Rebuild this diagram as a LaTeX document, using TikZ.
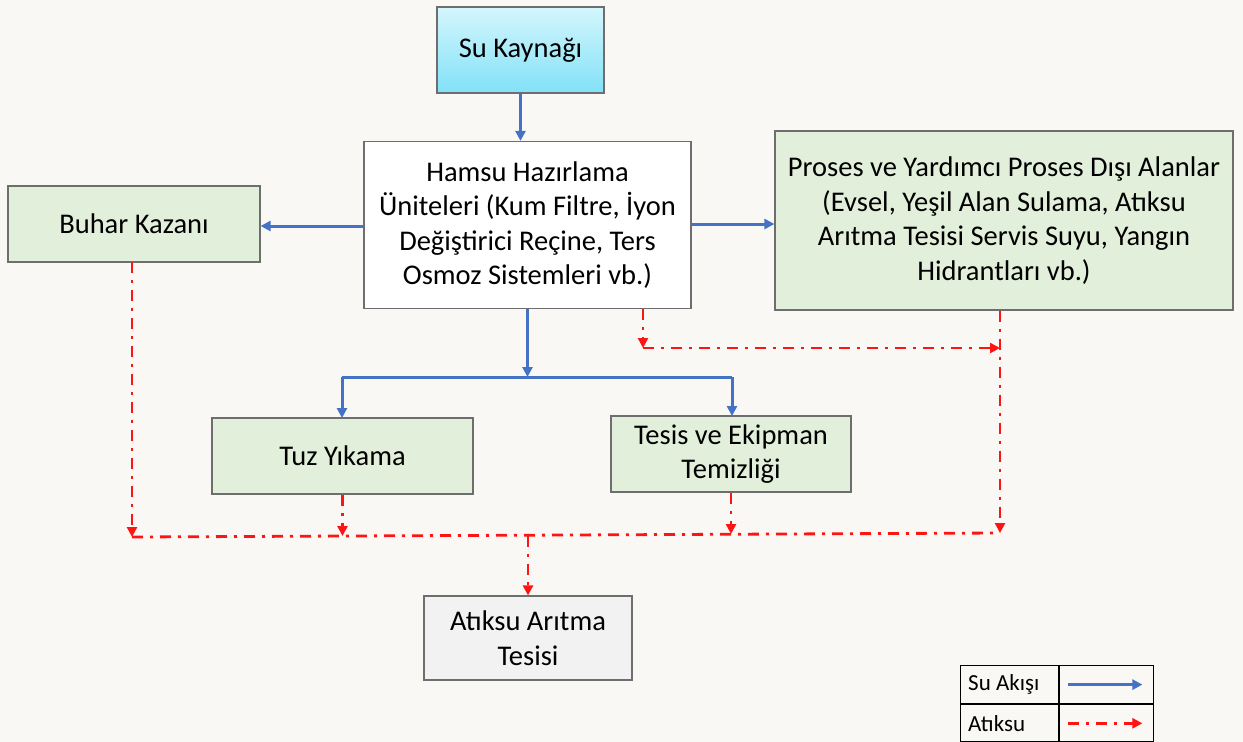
\documentclass[tikz,border=0pt]{standalone}
\usepackage{fontspec}
\setmainfont{Carlito}
\usetikzlibrary{arrows.meta}
\definecolor{bg}{RGB}{250,248,245}
\definecolor{boxgray}{RGB}{110,110,110}
\definecolor{greenfill}{RGB}{226,239,218}
\definecolor{grayfill}{RGB}{242,242,242}
\definecolor{waterblue}{RGB}{68,114,196}
\definecolor{wastered}{RGB}{255,20,20}
\definecolor{cyantop}{RGB}{212,246,252}
\definecolor{cyanbot}{RGB}{130,225,248}
\tikzset{
  box/.style={draw=boxgray, line width=1.2pt, inner sep=0pt, align=center,
    font=\fontsize{28.5}{34.5}\selectfont},
  greenbox/.style={box, fill=greenfill},
  water/.style={draw=waterblue, line width=3pt, -{Triangle[length=10pt,width=10pt]}},
  waterline/.style={draw=waterblue, line width=3pt},
  waste/.style={draw=wastered, line width=2.8pt, dash pattern=on 11pt off 7pt on 3pt off 7pt,
    -{Triangle[length=10pt,width=10pt]}},
  wasteline/.style={draw=wastered, line width=2.8pt, dash pattern=on 11pt off 7pt on 3pt off 7pt},
  legcell/.style={draw=black, line width=1.2pt, inner sep=0pt, anchor=north west},
  legtext/.style={anchor=west, inner sep=0pt, font=\fontsize{23}{26}\selectfont}
}
\begin{document}
\begin{tikzpicture}[x=1pt,y=-1pt]
\useasboundingbox[fill=bg] (0,0) rectangle (1243,742);
% boxes
\node[box, top color=cyantop, bottom color=cyanbot, minimum width=167pt, minimum height=86pt] (src) at (520.5,50) {Su Kaynağı};
\node[box, fill=white, minimum width=327pt, minimum height=167pt] (ham) at (527.5,225)
  {Hamsu Hazırlama\\Üniteleri (Kum Filtre, İyon\\Değiştirici Reçine, Ters\\Osmoz Sistemleri vb.)};
\node[greenbox, minimum width=252pt, minimum height=76pt] (buhar) at (134,224) {Buhar Kazanı};
\node[greenbox, minimum width=458pt, minimum height=179pt] (proses) at (1004,220.5)
  {Proses ve Yardımcı Proses Dışı Alanlar\\(Evsel, Yeşil Alan Sulama, Atıksu\\Arıtma Tesisi Servis Suyu, Yangın\\Hidrantları vb.)};
\node[greenbox, minimum width=261pt, minimum height=76pt] (tuz) at (342.5,456) {Tuz Yıkama};
\node[greenbox, minimum width=240pt, minimum height=76pt] (tesis) at (731,454) {Tesis ve Ekipman\\Temizliği};
\node[box, fill=grayfill, minimum width=208pt, minimum height=84pt] (atik) at (528,638) {Atıksu Arıtma\\Tesisi};
% water flow
\draw[water] (src.south) -- (src.south |- ham.north);
\draw[water] (ham.west |- 0,226) -- (buhar.east |- 0,226);
\draw[water] (ham.east |- 0,224) -- (proses.west |- 0,224);
\coordinate (wj) at (ham.south |- 0,377);
\draw[water] (ham.south) -- (wj);
\draw[waterline] (342,377) -- (732,377);
\draw[water] (342,377) -- (342,418);
\draw[water] (732,377) -- (732,416);
% waste water
\coordinate (bl) at (132,537);
\coordinate (br) at (1000,533);
\coordinate (bm) at (528,536);
\draw[waste] (132,262) -- (bl);
\draw[waste] (tuz.south) -- (tuz.south |- bm);
\draw[waste] (tesis.south) -- (tesis.south |- 0,534);
\draw[waste] (proses.south -| br) -- (br);
\coordinate (hs) at ([xshift=115.5pt]ham.south);
\coordinate (hc) at (hs |- 0,348);
\draw[waste] (hs) -- (hc);
\draw[waste] (hc) -- (br |- hc);
\draw[wasteline] (bl) -- (br);
\draw[waste] (bm) -- (atik.north);
% legend
\node[legcell, minimum width=98pt, minimum height=38pt] (l1) at (960,665) {};
\node[legcell, minimum width=94pt, minimum height=38pt] (l2) at (l1.north east) {};
\node[legcell, minimum width=98pt, minimum height=37pt] (l3) at (l1.south west) {};
\node[legcell, minimum width=94pt, minimum height=37pt] (l4) at (l3.north east) {};
\node[legtext] (t1) at ([xshift=8pt]l1.west) {Su Akışı};
\node[legtext] (t3) at ([xshift=8pt]l3.west) {Atıksu};
\draw[water] ([xshift=9pt]l2.west) -- ([xshift=-12pt]l2.east);
\draw[waste] ([xshift=9pt]l4.west) -- ([xshift=-12pt]l4.east);
\end{tikzpicture}
\end{document}
